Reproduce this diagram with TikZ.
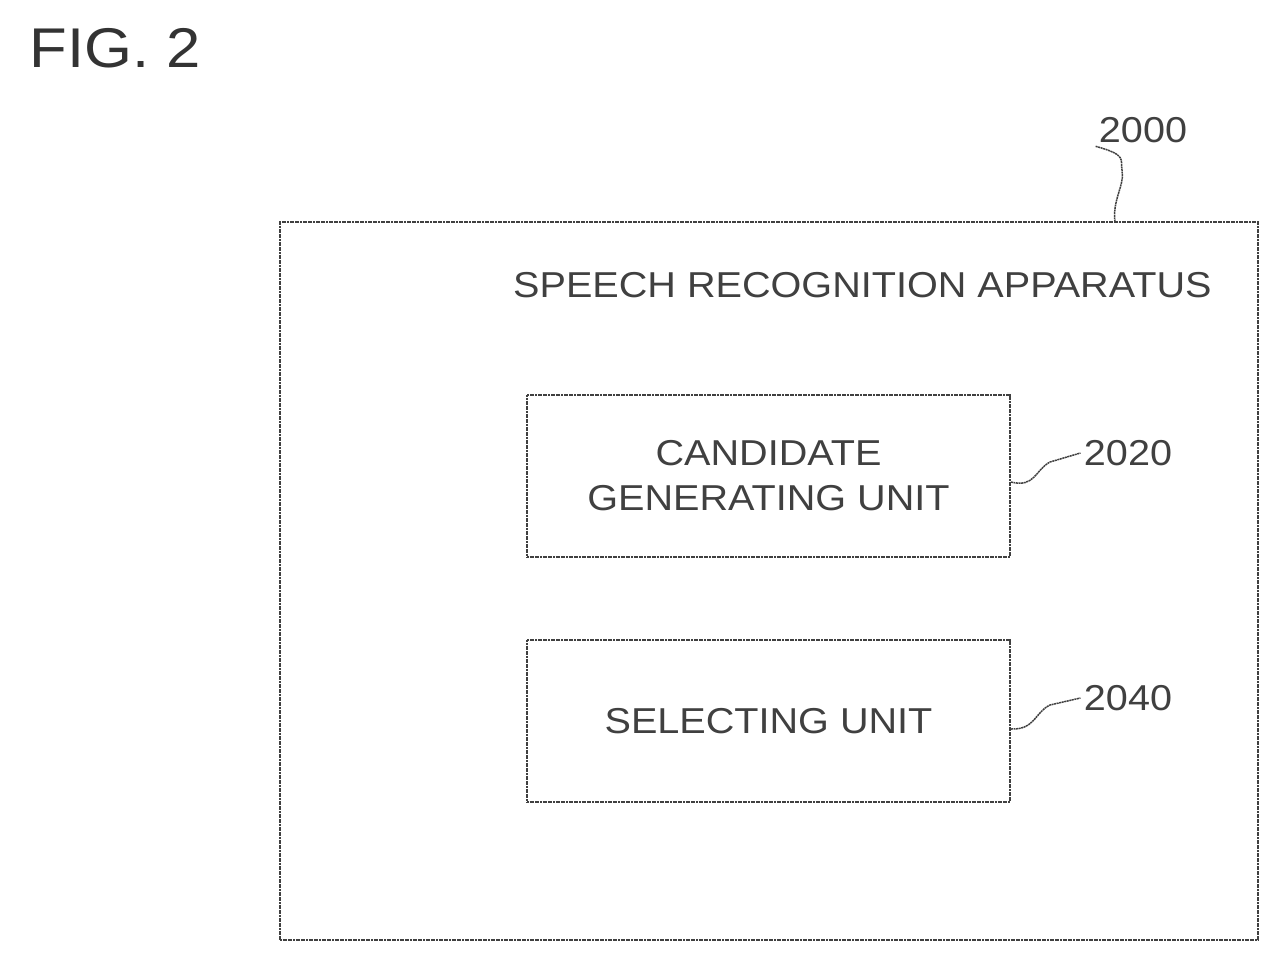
\documentclass[tikz,border=0pt]{standalone}
\usepackage{fontspec}
\setmainfont{Liberation Sans}[FakeStretch=1.1]
\usetikzlibrary{decorations.pathmorphing}
\begin{document}
\begin{tikzpicture}[x=1pt,y=-1pt,
  box/.style={draw=black!75,line width=1.8pt,dash pattern=on 2pt off 0.6pt,inner sep=0},
  lead/.style={draw=black!75,line width=1.5pt,dash pattern=on 2pt off 0.6pt},
  txt/.style={font=\fontsize{36}{45}\selectfont,text=black!75}]
\useasboundingbox (0,0) rectangle (1282,965);
\node[font=\fontsize{56}{60}\selectfont,text=black!80] (fig) at (115,48) {FIG. 2};
\node[box,minimum width=978pt,minimum height=718pt] (outer) at (769,581) {};
\node[txt,anchor=east] (title) at (1215,285) {SPEECH RECOGNITION APPARATUS};
\node[box,minimum width=483pt,minimum height=162pt,align=center,txt] (cg) at (768.5,476) {CANDIDATE\\GENERATING UNIT};
\node[box,minimum width=483pt,minimum height=162pt,txt] (sel) at (768.5,721) {SELECTING UNIT};
\node[txt] (l2000) at (1143,130) {2000};
\node[txt] (l2020) at (1128,453) {2020};
\node[txt] (l2040) at (1128,698) {2040};
\coordinate (a0) at (1115,222);
\draw[lead] (a0) .. controls (1112,200) and (1125,185) .. (1122,170) .. controls (1120,160) and (1128,155) .. (l2000.south west);
\draw[lead] (cg.east) ++(0,6) .. controls (1035,488) and (1035,470) .. (1050,462) -- (l2020.west);
\draw[lead] (sel.east) ++(0,8) .. controls (1035,730) and (1035,712) .. (1050,705) -- (l2040.west);
\end{tikzpicture}
\end{document}
